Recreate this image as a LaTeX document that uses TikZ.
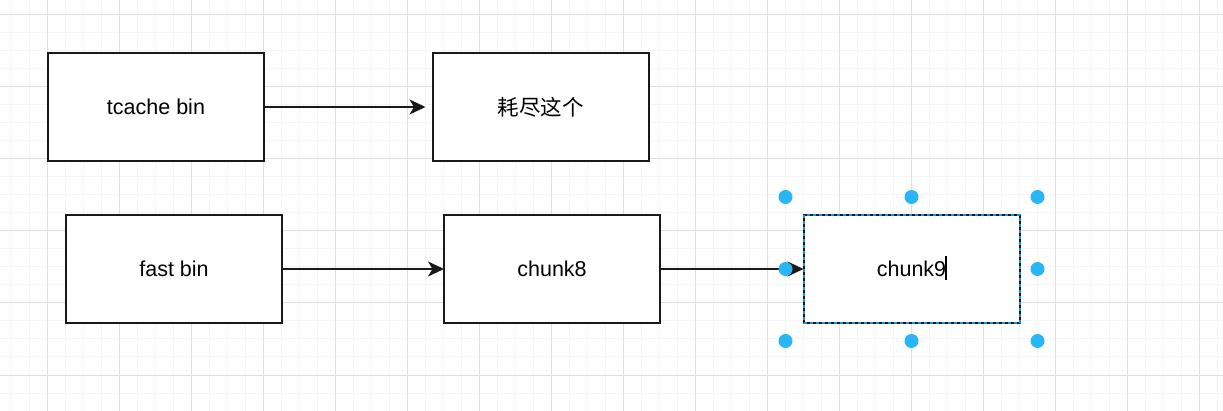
\documentclass[tikz,border=0pt]{standalone}
\usepackage{fontspec}
\setmainfont{Liberation Sans}
\newfontfamily\cjk{Noto Sans CJK SC}
\usetikzlibrary{arrows.meta}
\definecolor{gridmajor}{RGB}{224,224,224}
\definecolor{gridminor}{RGB}{245,245,245}
\definecolor{handle}{RGB}{41,182,246}
\definecolor{seldash}{RGB}{20,150,220}
\tikzset{
  box/.style={draw=black!90, line width=2pt, fill=white, minimum width=216pt, minimum height=108pt, outer sep=0pt, inner sep=0pt, font=\fontsize{21.5}{25}\selectfont},
  arr/.style={draw=black!90, line width=2pt, -{Stealth[length=16pt,width=15pt,inset=4.5pt]}},
  handledot/.style={fill=handle},
}
\begin{document}
\begin{tikzpicture}[x=1pt,y=-1pt]
\useasboundingbox (0,0) rectangle (1223,411);
\fill[white] (0,0) rectangle (1223,411);
% grid
\foreach \x in {11,29,...,1223} \draw[gridminor, line width=1pt] (\x,0) -- (\x,411);
\foreach \y in {-3,15,...,411} \draw[gridminor, line width=1pt] (0,\y) -- (1223,\y);
\foreach \x in {47,119,...,1223} \draw[gridmajor, line width=1pt] (\x,0) -- (\x,411);
\foreach \y in {15,87,...,411} \draw[gridmajor, line width=1pt] (0,\y) -- (1223,\y);
% nodes
\node[box] (tc) at (156,107) {tcache bin};
\node[box] (hao) at (540.5,107) {\cjk 耗尽这个};
\node[box] (fb) at (174,269) {fast bin};
\node[box] (c8) at (552,269) {chunk8};
\node[box] (c9) at (911.5,269) {chunk9};
% selection border
\draw[seldash, line width=2pt, dash pattern=on 3pt off 3pt] (c9.north west) rectangle (c9.south east);
% text cursor
\coordinate (cur) at (946,268);
\draw[black, line width=2pt] ([yshift=-12]cur) -- ([yshift=12]cur);
% connectors
\draw[arr, shorten >=7pt] (tc.east) -- (hao.west);
\draw[arr] (fb.east) -- (c8.west);
\draw[arr] (c8.east) -- (c9.west);
% handles
\foreach \a/\dx/\dy in {north west/-18/-18, north/0/-18, north east/18/-18, west/-18/0, east/18/0, south west/-18/18, south/0/18, south east/18/18}
  \fill[handledot] (c9.\a) ++(\dx,\dy) circle (7);
\end{tikzpicture}
\end{document}
